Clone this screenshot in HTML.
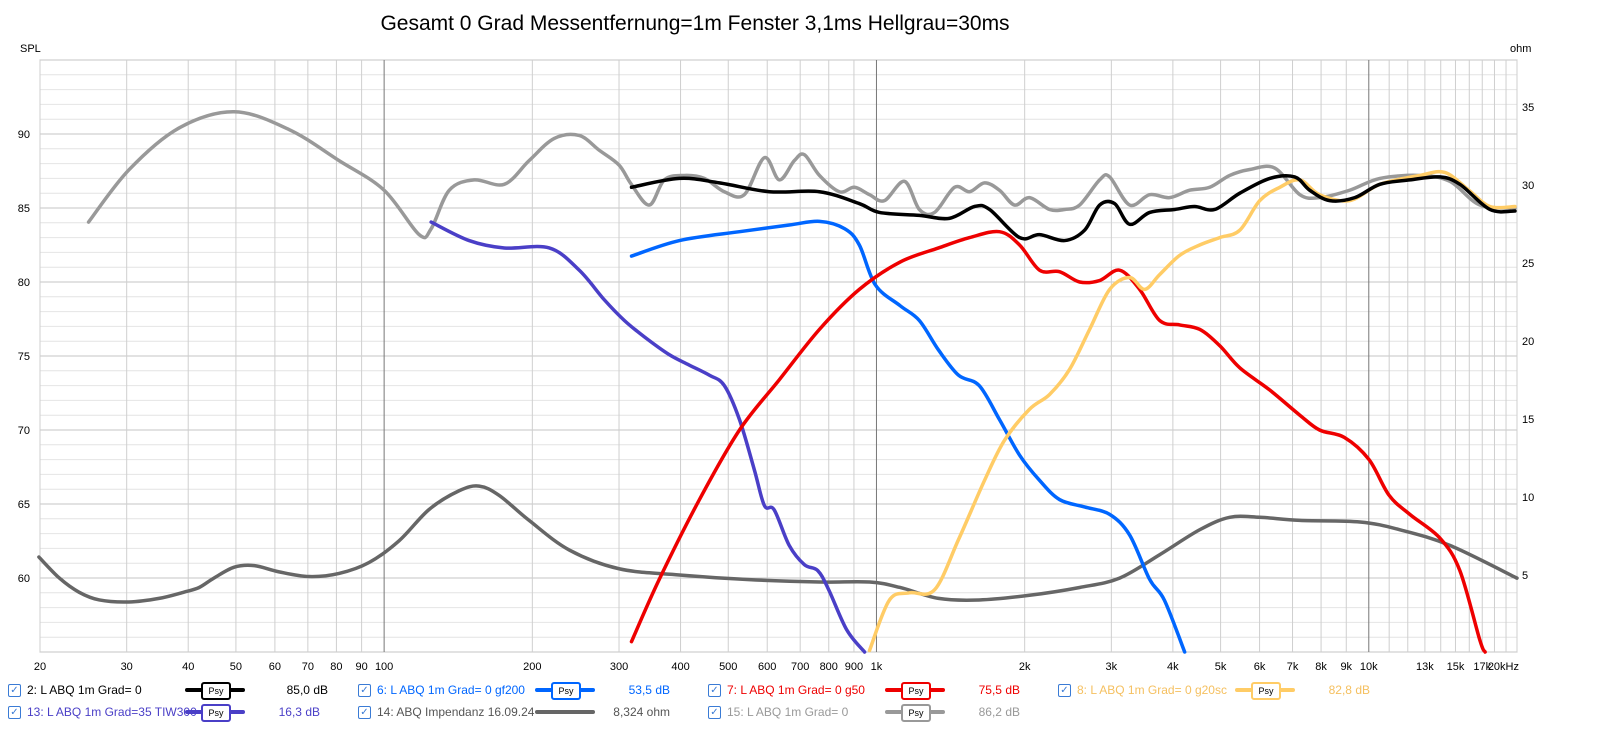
<!DOCTYPE html>
<html><head><meta charset="utf-8"><style>
html,body{margin:0;background:#fff;font-family:"Liberation Sans",sans-serif;overflow:hidden;width:1600px;height:738px}
svg{display:block}
</style></head><body>
<svg id="chart" width="1600" height="738" xmlns="http://www.w3.org/2000/svg">
<text x="695" y="30" font-size="21" text-anchor="middle" fill="#000">Gesamt 0 Grad Messentfernung=1m Fenster 3,1ms Hellgrau=30ms</text>
<text x="20" y="52" font-size="11" fill="#000">SPL</text>
<text x="1510" y="52" font-size="11" fill="#000">ohm</text>
<g id="grid"></g><g id="series"></g><g id="legend"></g>
</svg>
<script>
const xTickLabels=["20","30","40","50","60","70","80","90","100","200","300","400","500","600","700","800","900","1k","2k","3k","4k","5k","6k","7k","8k","9k","10k","13k","15k","17k","20kHz"];
const xTickFreqs=[20,30,40,50,60,70,80,90,100,200,300,400,500,600,700,800,900,1000,2000,3000,4000,5000,6000,7000,8000,9000,10000,13000,15000,17000,20000];
const yTicks=[60,65,70,75,80,85,90];
const ohmTicks=[5,10,15,20,25,30,35];

const f15=[25.1,30.3,38.3,49.6,64.1,81,100,117.8,124.6,135.6,152.4,175.4,197,221.6,249,273.5,300,317.8,345.7,370.8,407,447,491,539,592,635,681,714,766,841,902,968,1038,1140,1222,1312,1441,1546,1658,1778,1907,2046,2247,2411,2586,2840,2976,3268,3589,3940,4327,4752,5218,5730,6441,7244,7943,9142,10530,12700,14610,16810,19810];
const v15=[84.05,87.57,90.4,91.5,90.3,88.2,86.2,83.2,83.6,86.2,86.9,86.6,88.2,89.7,89.9,88.9,87.9,86.6,85.2,86.9,87.2,87.0,86.1,85.9,88.4,86.9,88.2,88.6,87.2,86.1,86.4,85.9,85.5,86.8,84.9,84.7,86.4,86.1,86.7,86.2,85.2,85.7,84.9,84.9,85.2,86.9,87.1,85.2,85.9,85.7,86.2,86.4,87.2,87.6,87.7,85.9,85.7,86.2,87.0,87.2,86.8,85.2,85.0];
const f2=[318,397.8,479.7,606,766,922.6,1014,1222,1406,1582,1697,1953,2144,2411,2647,2840,3046,3268,3589,4034,4426,4864,5470,6293,7072,7586,8330,9365,10530,12115,13944,15310,17620,19810];
const v2=[86.4,87.0,86.7,86.1,86.1,85.3,84.7,84.5,84.3,85.1,84.9,83.0,83.2,82.8,83.5,85.2,85.3,83.9,84.7,84.9,85.1,84.9,86.0,87.0,87.1,86.2,85.5,85.7,86.6,86.9,87.1,86.6,84.9,84.8];
const f6=[318,398,527,665,766,862,923,995,1117,1222,1337,1468,1617,1778,1953,2144,2354,2647,2976,3268,3589,3845,4227];
const v6=[81.75,82.8,83.4,83.85,84.1,83.6,82.5,79.8,78.4,77.4,75.4,73.7,73.0,70.7,68.3,66.6,65.3,64.8,64.3,62.9,59.9,58.5,55];
const f13=[124.6,148.8,175.4,216.5,249,280,307.6,337.5,379,416,458,491,527,565,592,620,665,714,760,800,870,946];
const v13=[84.05,82.8,82.3,82.3,80.8,78.8,77.4,76.3,75.1,74.4,73.7,73.0,70.7,67.3,64.9,64.6,62.2,60.9,60.5,59.2,56.5,55];
const f7=[318,362,437,527,635,766,923,1117,1337,1546,1778,1953,2144,2354,2586,2840,3118,3424,3760,4129,4534,4979,5470,6293,7244,7943,8917,10010,10990,12115,13944,15310,16810,17230];
const v7=[55.7,59.9,65.3,70.0,73.4,76.8,79.5,81.35,82.3,83.0,83.4,82.5,80.8,80.7,80.0,80.1,80.8,79.5,77.4,77.1,76.8,75.7,74.2,72.7,71.0,70.0,69.5,68.0,65.6,64.3,62.7,60.5,55.8,55];
const f8=[968,1062,1166,1312,1468,1658,1820,2046,2247,2468,2710,2976,3268,3504,3760,4129,4534,4979,5470,6007,6596,7244,7943,9142,10530,12700,14270,15970,17620,19810];
const v8=[55.1,58.5,59.0,59.2,62.6,66.6,69.3,71.4,72.4,74.1,76.8,79.5,80.3,79.5,80.5,81.8,82.5,83.0,83.5,85.5,86.4,86.9,85.9,85.5,86.6,87.2,87.4,86.2,85.1,85.1];
const f14=[19.9,21.9,24.0,26.4,30.3,34.9,39.2,42.1,45.1,49.6,54.5,61.2,70.4,81,93.2,107.3,123.4,142,156,171.3,197,237.8,300,397.8,552,766,968,1117,1337,1617,2046,2586,3118,3760,4534,5218,6007,7244,9591,11570,14610,20000];
const v14=[6.15,4.8,3.9,3.4,3.27,3.5,3.9,4.2,4.8,5.5,5.6,5.2,4.9,5.1,5.8,7.2,9.2,10.4,10.7,10.1,8.5,6.6,5.4,5.0,4.7,4.55,4.55,4.2,3.5,3.4,3.7,4.2,4.8,6.3,7.9,8.7,8.7,8.5,8.4,7.9,6.9,4.8];

const L=40,R=1517,T=60,B=652;
const xs=f=>L+(Math.log10(f)-Math.log10(20))/3*(R-L);
const ys=d=>134+(90-d)*14.8;
const yo=o=>653-o*15.6;
const NS="http://www.w3.org/2000/svg";
function mk(tag,attrs,parent){const e=document.createElementNS(NS,tag);for(const k in attrs)e.setAttribute(k,attrs[k]);parent.appendChild(e);return e;}
const grid=document.getElementById('grid');
mk('rect',{x:L,y:T,width:R-L,height:B-T,fill:'#fff',stroke:'#bbb'},grid);
for(let d=55;d<=95;d++){const y=ys(d);if(y<T||y>B)continue;
 const l=mk('line',{x1:L,x2:R,y1:y,y2:y,stroke:d%5===0?'#c4c4c4':'#e4e4e4','stroke-width':1},grid);
 
 }
const gf=[];for(let dec=10;dec<=10000;dec*=10)for(let m=1;m<10;m++){const f=dec*m;if(f>=20&&f<=20000)gf.push(f);}
for(let k=11000;k<20000;k+=1000)gf.push(k);
gf.forEach(f=>{const x=xs(f);const major=(f===100||f===1000||f===10000);
 const l=mk('line',{x1:x,x2:x,y1:T,y2:B,stroke:major?'#777':'#cfcfcf','stroke-width':1},grid);
 
 });
xTickFreqs.forEach((f,i)=>{const last=i===xTickFreqs.length-1;const t=mk('text',{x:last?1519:xs(f),y:670,'font-size':11,'text-anchor':last?'end':'middle',fill:'#000'},grid);t.textContent=xTickLabels[i];
 
 });
yTicks.forEach(d=>{const t=mk('text',{x:30,y:ys(d)+4,'font-size':11,'text-anchor':'end',fill:'#000'},grid);t.textContent=d;
 
 });
ohmTicks.forEach(o=>{const t=mk('text',{x:1522,y:yo(o)+4,'font-size':11,fill:'#000'},grid);t.textContent=o;
 
 });
function smooth(pts){let d=`M${pts[0][0]},${pts[0][1]}`;
 for(let i=0;i<pts.length-1;i++){const p0=pts[Math.max(0,i-1)],p1=pts[i],p2=pts[i+1],p3=pts[Math.min(pts.length-1,i+2)];
  d+=` C${p1[0]+(p2[0]-p0[0])/6},${p1[1]+(p2[1]-p0[1])/6} ${p2[0]-(p3[0]-p1[0])/6},${p2[1]-(p3[1]-p1[1])/6} ${p2[0]},${p2[1]}`;}
 return d;}
const S=document.getElementById('series');
function draw(fs,vs,yf,color,w,name){const pts=fs.map((f,i)=>[xs(f),Math.min(B,yf(vs[i]))]);
 const p=mk('path',{d:smooth(pts),fill:'none',stroke:color,'stroke-width':w,'stroke-linejoin':'round','stroke-linecap':'round'},S);
 
 }
draw(f14,v14,yo,'#666',3.5,'series-14-impedance');
draw(f15,v15,ys,'#999',3.5,'series-15-30ms');
draw(f13,v13,ys,'#4a3fc7',3.5,'series-13-tiw300');
draw(f6,v6,ys,'#0066ff',3.5,'series-6-gf200');
draw(f7,v7,ys,'#ee0000',3.5,'series-7-g50');
draw(f8,v8,ys,'#ffcc66',3.5,'series-8-g20sc');
draw(f2,v2,ys,'#000',3.5,'series-2-gesamt');
</script>
<div style="position:absolute;left:0;top:678px;width:1600px;height:60px;font-size:12px;overflow:hidden">
<style>.le{position:absolute;height:20px;line-height:20px;white-space:nowrap}.cb{position:absolute;width:11px;height:11px;border:1px solid #3a7bd5;border-radius:2px;top:4px;font-size:10px;line-height:11px;text-align:center;color:#3a7bd5}.ps{position:absolute;top:1px;width:60px;height:18px}.ps i{position:absolute;left:0;right:0;top:7px;height:4px;border-radius:2px}.ps b{position:absolute;left:16px;width:26px;height:14px;top:1px;border:2px solid;border-radius:3px;background:#fff;font:normal 9px "Liberation Sans",sans-serif;line-height:14px;text-align:center;color:#000}.val{position:absolute;text-align:right;width:80px}</style>
<div class="le" style="left:8px;top:2px"><span class="cb">✓</span><span style="position:absolute;left:19px;color:#000">2: L ABQ 1m Grad= 0</span><span class="ps" style="left:177px"><i style="background:#000"></i><b style="border-color:#000">Psy</b></span><span class="val" style="left:240px;color:#000">85,0 dB</span></div>
<div class="le" style="left:358px;top:2px"><span class="cb">✓</span><span style="position:absolute;left:19px;color:#0066ff">6: L ABQ 1m Grad= 0 gf200</span><span class="ps" style="left:177px"><i style="background:#0066ff"></i><b style="border-color:#0066ff">Psy</b></span><span class="val" style="left:232px;color:#0066ff">53,5 dB</span></div>
<div class="le" style="left:708px;top:2px"><span class="cb">✓</span><span style="position:absolute;left:19px;color:#ee0000">7: L ABQ 1m Grad= 0 g50</span><span class="ps" style="left:177px"><i style="background:#ee0000"></i><b style="border-color:#ee0000">Psy</b></span><span class="val" style="left:232px;color:#ee0000">75,5 dB</span></div>
<div class="le" style="left:1058px;top:2px"><span class="cb">✓</span><span style="position:absolute;left:19px;color:#f5c060">8: L ABQ 1m Grad= 0 g20sc</span><span class="ps" style="left:177px"><i style="background:#ffcc66"></i><b style="border-color:#ffcc66">Psy</b></span><span class="val" style="left:232px;color:#f5c060">82,8 dB</span></div>
<div class="le" style="left:8px;top:24px"><span class="cb">✓</span><span style="position:absolute;left:19px;color:#4a3fc7">13: L ABQ 1m Grad=35 TIW300</span><span class="ps" style="left:177px"><i style="background:#4a3fc7"></i><b style="border-color:#4a3fc7">Psy</b></span><span class="val" style="left:232px;color:#4a3fc7">16,3 dB</span></div>
<div class="le" style="left:358px;top:24px"><span class="cb">✓</span><span style="position:absolute;left:19px;color:#555">14: ABQ Impendanz 16.09.24</span><span class="ps" style="left:177px"><i style="background:#666"></i></span><span class="val" style="left:232px;color:#555">8,324 ohm</span></div>
<div class="le" style="left:708px;top:24px"><span class="cb">✓</span><span style="position:absolute;left:19px;color:#999">15: L ABQ 1m Grad= 0</span><span class="ps" style="left:177px"><i style="background:#999"></i><b style="border-color:#999">Psy</b></span><span class="val" style="left:232px;color:#999">86,2 dB</span></div>
</div>
</body></html>
